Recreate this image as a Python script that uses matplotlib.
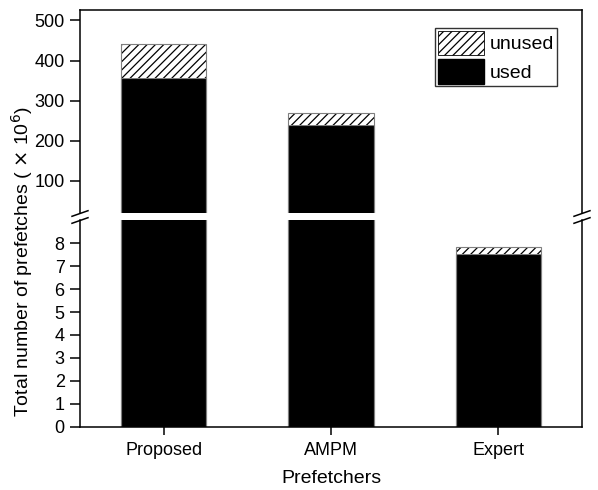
import matplotlib
matplotlib.use("Agg")
import matplotlib.pyplot as plt
from matplotlib.patches import Patch

plt.rcParams['font.family'] = ['Liberation Sans', 'DejaVu Sans']
plt.rcParams['hatch.linewidth'] = 0.9

prefetchers = ["Proposed", "AMPM", "Expert"]
used = [356, 238, 7.53]
unused = [86, 32, 0.33]
lower_ticks = [0, 1, 2, 3, 4, 5, 6, 7, 8]
upper_ticks = [100, 200, 300, 400, 500]

W, H = 598, 490
fig = plt.figure(figsize=(W / 100, H / 100), dpi=100)

left, right = 80 / W, 582 / W
ax_hi = fig.add_axes([left, 1 - 213.5 / H, right - left, (213.5 - 10) / H])
ax_lo = fig.add_axes([left, 1 - 426.5 / H, right - left, (426.5 - 220.5) / H])

x = list(range(len(prefetchers)))
edge = "#7f7f7f"
for ax in (ax_hi, ax_lo):
    ax.bar(x, used, width=0.51, color="black", edgecolor=edge, linewidth=0.8)
    ax.bar(x, unused, width=0.51, bottom=used, color="white", hatch="////",
           edgecolor="black", linewidth=0)
    ax.bar(x, [u + v for u, v in zip(used, unused)], width=0.51,
           fill=False, edgecolor=edge, linewidth=0.8)
    ax.set_xlim(-0.5, 2.5)
    for s in ax.spines.values():
        s.set_linewidth(1.1)
    ax.tick_params(axis="y", direction="out", length=7, width=1.1,
                   labelsize=13, pad=4, right=False)

ax_hi.set_ylim(18.5, 526)
ax_hi.set_yticks(upper_ticks)
ax_hi.spines["bottom"].set_visible(False)
ax_hi.tick_params(axis="x", bottom=False, labelbottom=False)

ax_lo.set_ylim(0, 9.0)
ax_lo.set_yticks(lower_ticks)
ax_lo.spines["top"].set_visible(False)
ax_lo.set_xticks(x)
ax_lo.set_xticklabels(prefetchers)
ax_lo.tick_params(axis="x", direction="out", length=6, width=1.1,
                  labelsize=13, pad=5)
ax_lo.set_xlabel("Prefetchers", fontsize=14, labelpad=8)

fig.text(22 / W, 1 - 262 / H,
         r"Total number of prefetches ( $\times$ 10$^{6}$)",
         rotation=90, ha="center", va="center", fontsize=14)

# break marks on both vertical spines
dx, dy = 8 / W, 2.8 / H
for xe in (left, right):
    for ye in (1 - 213.5 / H, 1 - 220.5 / H):
        fig.add_artist(plt.Line2D([xe - dx, xe + dx], [ye - dy, ye + dy],
                                  color="black", linewidth=1.1))

handles = [Patch(facecolor="white", edgecolor="black", hatch="////", linewidth=0.6),
           Patch(facecolor="black", edgecolor="black")]
leg = ax_hi.legend(handles, ["unused", "used"], loc="upper right",
                   bbox_to_anchor=(557 / W, 1 - 28 / H),
                   bbox_transform=fig.transFigure,
                   fontsize=14, frameon=True, fancybox=False,
                   handlelength=2.35, handleheight=1.55, handletextpad=0.3,
                   labelspacing=0.2, borderpad=0.15, borderaxespad=0)
leg.get_frame().set_edgecolor("black")
leg.get_frame().set_linewidth(1.0)

fig.savefig("out.png", dpi=100)
